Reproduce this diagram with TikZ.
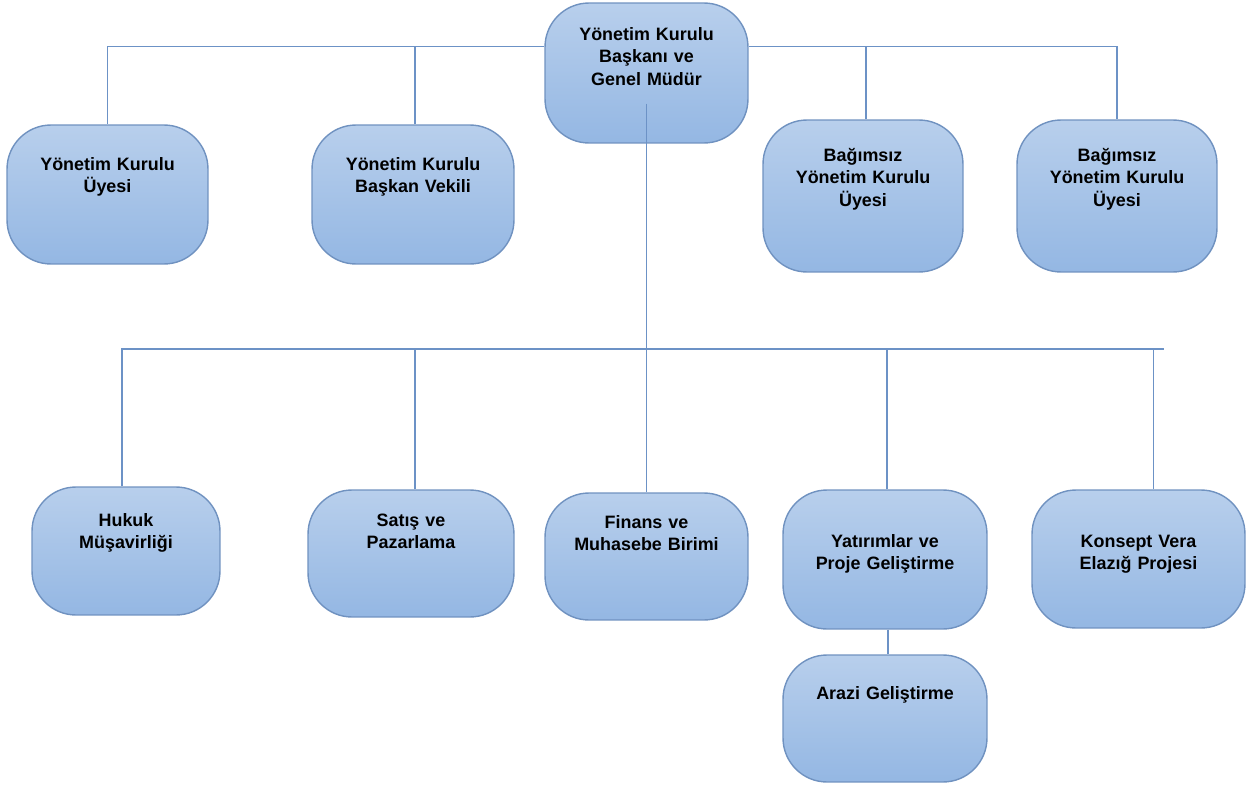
\documentclass[tikz,border=0pt]{standalone}
\usepackage{fontspec}
\setmainfont{Liberation Sans}
\usepackage{tikz}
\usetikzlibrary{positioning}

\definecolor{unittop}{RGB}{184,207,236}
\definecolor{unitbot}{RGB}{148,183,227}
\definecolor{unitline}{RGB}{112,146,192}
\definecolor{linkcol}{RGB}{108,146,198}

\begin{document}
\begin{tikzpicture}[x=0.02cm, y=-0.02cm,
    unit/.style={draw=unitline, line width=0.8pt, top color=unittop, bottom color=unitbot,
        rounded corners=0.88cm, inner sep=0pt, align=center,
        font=\fontsize{10.2}{13}\selectfont\bfseries},
    link/.style={draw=linkcol, line width=0.85pt}]
    \useasboundingbox (0,0) rectangle (1249,785);

    % board
    \node[unit, text width=4.06cm, text height=0.74cm, text depth=2.06cm] (ceo) at (646.5,73)
        {Yönetim Kurulu\\Başkanı ve\\Genel Müdür};
    \node[unit, text width=4.02cm, text height=0.90cm, text depth=1.88cm] (uye) at (107.5,194.5)
        {Yönetim Kurulu\\Üyesi};
    \node[unit, text width=4.04cm, text height=0.90cm, text depth=1.88cm] (vekil) at (413,194.5)
        {Yönetim Kurulu\\Başkan Vekili};
    \node[unit, text width=4.0cm, text height=0.82cm, text depth=2.22cm] (bag_1) at (863,196)
        {Bağımsız\\Yönetim Kurulu\\Üyesi};
    \node[unit, text width=4.0cm, text height=0.82cm, text depth=2.22cm] (bag_2) at (1117,196)
        {Bağımsız\\Yönetim Kurulu\\Üyesi};

    % departments
    \node[unit, text width=3.76cm, text height=0.78cm, text depth=1.78cm] (hukuk) at (126,551)
        {Hukuk\\Müşavirliği};
    \node[unit, text width=4.12cm, text height=0.72cm, text depth=1.82cm] (satis) at (411,553.5)
        {Satış ve\\Pazarlama};
    \node[unit, text width=4.06cm, text height=0.70cm, text depth=1.84cm] (finans) at (646.5,556.5)
        {Finans ve\\Muhasebe Birimi};
    \node[unit, text width=4.08cm, text height=1.14cm, text depth=1.64cm] (yatirim) at (885,559.5)
        {Yatırımlar ve\\Proje Geliştirme};
    \node[unit, text width=4.26cm, text height=1.14cm, text depth=1.62cm] (konsept) at (1138.5,559)
        {Konsept Vera\\Elazığ Projesi};
    \node[unit, text width=4.08cm, text height=0.88cm, text depth=1.66cm] (arazi) at (885,718.5)
        {Arazi Geliştirme};

    % top bar
    \coordinate (bar) at (0,46.5);
    \draw[link] (ceo.west |- bar) -| (uye.north);
    \draw[link] ([xshift=0.04cm]vekil.north) -- ([xshift=0.04cm]vekil.north |- bar);
    \draw[link] (ceo.east |- bar) -| (bag_2.north);
    \draw[link] ([xshift=0.06cm]bag_1.north) -- ([xshift=0.06cm]bag_1.north |- bar);

    % bus to departments
    \coordinate (bus) at (0,349);
    \coordinate (bus_end) at (1164,349);
    \draw[link] (ceo.south) ++(0,-40) -- (ceo |- bus);
    \draw[link] ([xshift=-0.08cm]hukuk.north) |- (bus_end);
    \draw[link] ([xshift=0.08cm]satis.north) -- ([xshift=0.08cm]satis.north |- bus);
    \draw[link] (finans.north) -- (finans |- bus);
    \draw[link] ([xshift=0.04cm]yatirim.north) -- ([xshift=0.04cm]yatirim.north |- bus);
    \draw[link] ([xshift=0.3cm]konsept.north) -- ([xshift=0.3cm]konsept.north |- bus);
    \draw[link] ([xshift=0.06cm]yatirim.south) -- ([xshift=0.06cm]arazi.north);
\end{tikzpicture}
\end{document}
